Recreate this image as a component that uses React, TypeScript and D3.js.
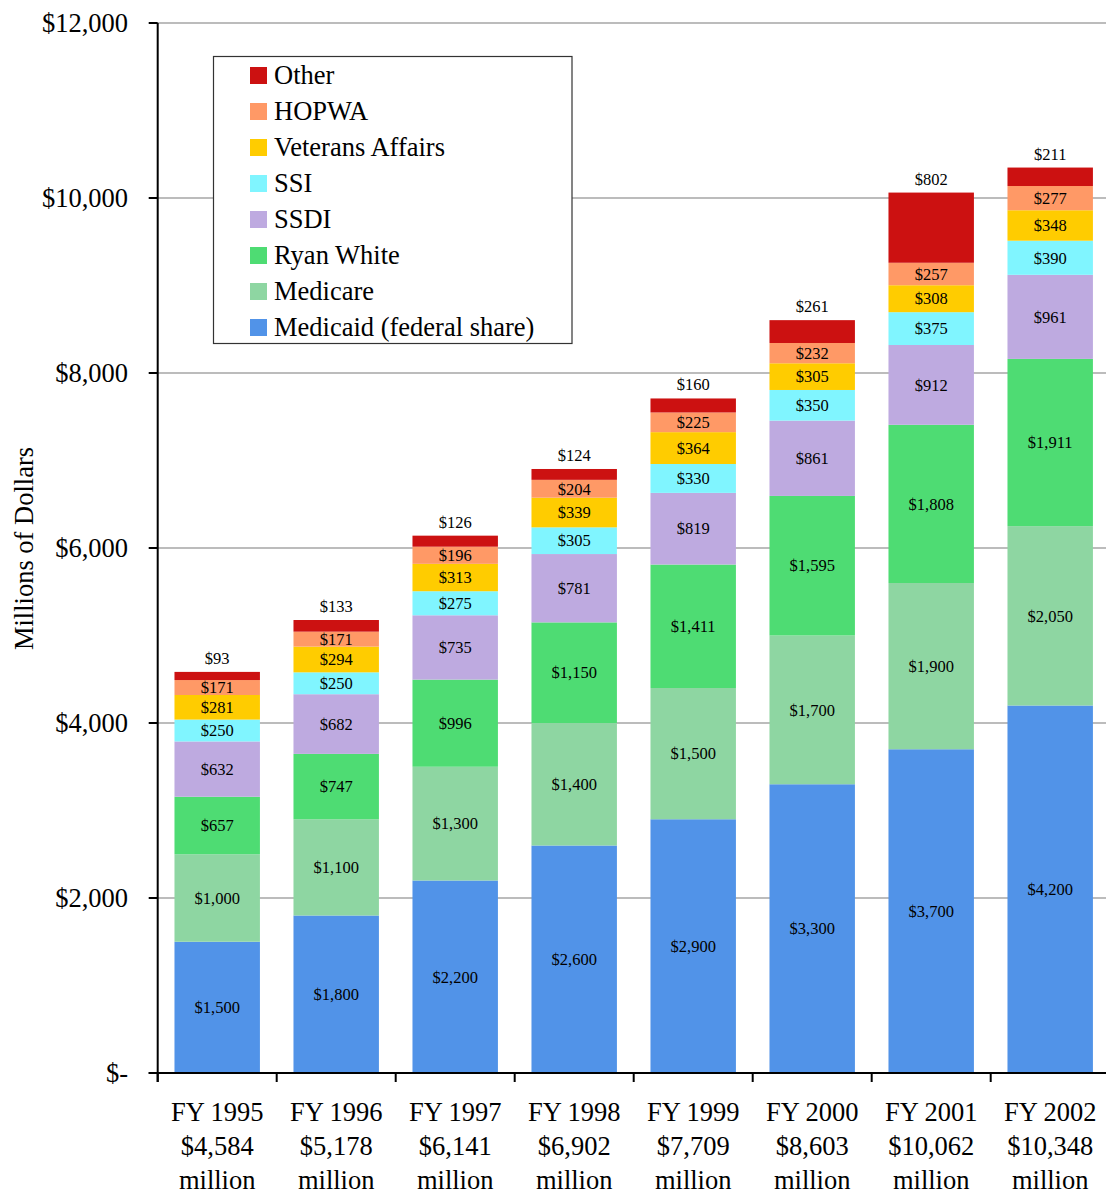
import React from "react";
import * as d3 from "d3";

const categories = ["FY 1995", "FY 1996", "FY 1997", "FY 1998", "FY 1999", "FY 2000", "FY 2001", "FY 2002"];
const totals = [4584, 5178, 6141, 6902, 7709, 8603, 10062, 10348];

const seriesNames = ["Medicaid (federal share)", "Medicare", "Ryan White", "SSDI", "SSI", "Veterans Affairs", "HOPWA", "Other"];
const medicaid = [1500, 1800, 2200, 2600, 2900, 3300, 3700, 4200];
const medicare = [1000, 1100, 1300, 1400, 1500, 1700, 1900, 2050];
const ryanWhite = [657, 747, 996, 1150, 1411, 1595, 1808, 1911];
const ssdi = [632, 682, 735, 781, 819, 861, 912, 961];
const ssi = [250, 250, 275, 305, 330, 350, 375, 390];
const veterans = [281, 294, 313, 339, 364, 305, 308, 348];
const hopwa = [171, 171, 196, 204, 225, 232, 257, 277];
const other = [93, 133, 126, 124, 160, 261, 802, 211];
const seriesValues = [medicaid, medicare, ryanWhite, ssdi, ssi, veterans, hopwa, other];
const seriesColors = ["#5193E8", "#8ED6A2", "#4EDC73", "#BEAAE0", "#80F5FF", "#FFCC00", "#FF9966", "#CC1111"];

const yTicks = [0, 2000, 4000, 6000, 8000, 10000, 12000];

const W = 1106;
const H = 1193;
const FONT = "'Liberation Serif', 'Times New Roman', serif";

export default function App() {
  const left = 157.7;
  const right = 1109.7;
  const top = 23;
  const bottom = 1073;

  const x = d3.scaleBand<string>().domain(categories).range([left, right]).paddingInner(0.282).paddingOuter(0.141);
  const y = d3.scaleLinear().domain([0, 12000]).range([bottom, top]);
  const fmt = d3.format("$,");

  const rows = categories.map((c, i) => {
    const r: any = { cat: c };
    seriesNames.forEach((s, j) => (r[s] = seriesValues[j][i]));
    return r;
  });
  const stacked = d3.stack<any>().keys(seriesNames)(rows);
  const otherIdx = seriesNames.length - 1;

  const boundaries = d3.range(categories.length + 1).map((i) => left + i * x.step());

  const legendItems = seriesNames.map((s, j) => ({ name: s, color: seriesColors[j] })).reverse();

  return (
    <svg width={W} height={H} style={{ position: "absolute", left: 0, top: 0, background: "#fff" }} fontFamily={FONT}>
      {/* gridlines */}
      {yTicks.filter((t) => t > 0).map((t) => (
        <line key={t} x1={left} x2={W} y1={y(t)} y2={y(t)} stroke="#A6A6A6" strokeWidth={1.3} />
      ))}
      {/* bars */}
      {stacked.map((layer, j) => (
        <g key={layer.key} fill={seriesColors[j]}>
          {layer.map((d, i) => (
            <rect key={i} x={x(categories[i])} width={x.bandwidth()} y={y(d[1])} height={y(d[0]) - y(d[1])} />
          ))}
        </g>
      ))}
      {/* segment labels */}
      {stacked.map((layer, j) =>
        layer.map((d, i) =>
          j === otherIdx ? (
            <text key={`l${j}-${i}`} x={x(categories[i])! + x.bandwidth() / 2} y={y(d[1]) - 8} textAnchor="middle" fontSize={16.5} fill="#000">
              {fmt(d[1] - d[0])}
            </text>
          ) : (
            <text key={`l${j}-${i}`} x={x(categories[i])! + x.bandwidth() / 2} y={(y(d[0]) + y(d[1])) / 2} dy="0.35em" textAnchor="middle" fontSize={16.5} fill="#000">
              {fmt(d[1] - d[0])}
            </text>
          )
        )
      )}
      {/* y axis */}
      <line x1={left} x2={left} y1={top} y2={bottom + 9} stroke="#000" strokeWidth={2} />
      {yTicks.map((t) => (
        <g key={t}>
          <line x1={left - 9} x2={left} y1={y(t)} y2={y(t)} stroke="#000" strokeWidth={2} />
          <text x={128} y={y(t)} dy="0.35em" textAnchor="end" fontSize={26.5} fill="#000">
            {t === 0 ? "$-" : fmt(t)}
          </text>
        </g>
      ))}
      {/* x axis */}
      <line x1={left - 9} x2={W} y1={bottom} y2={bottom} stroke="#000" strokeWidth={2} />
      {boundaries.map((b, i) => (
        <line key={i} x1={b} x2={b} y1={bottom} y2={bottom + 9} stroke="#000" strokeWidth={2} />
      ))}
      {categories.map((c, i) => {
        const cx = x(c)! + x.bandwidth() / 2;
        return (
          <text key={c} x={cx} textAnchor="middle" fontSize={26.5} fill="#000">
            <tspan x={cx} y={1121}>{c}</tspan>
            <tspan x={cx} y={1155}>{fmt(totals[i])}</tspan>
            <tspan x={cx} y={1189}>million</tspan>
          </text>
        );
      })}
      {/* y title */}
      <text transform={`translate(33, ${(445 + 652) / 2}) rotate(-90)`} textAnchor="middle" fontSize={26.5} fill="#000">
        Millions of Dollars
      </text>
      {/* legend */}
      <rect x={213.5} y={56.5} width={358.5} height={287} fill="#fff" stroke="#333" strokeWidth={1.2} />
      {legendItems.map((it, k) => (
        <g key={it.name}>
          <rect x={250} y={67 + k * 36} width={17} height={17} fill={it.color} />
          <text x={274} y={84 + k * 36} fontSize={26.5} fill="#000">
            {it.name}
          </text>
        </g>
      ))}
    </svg>
  );
}
